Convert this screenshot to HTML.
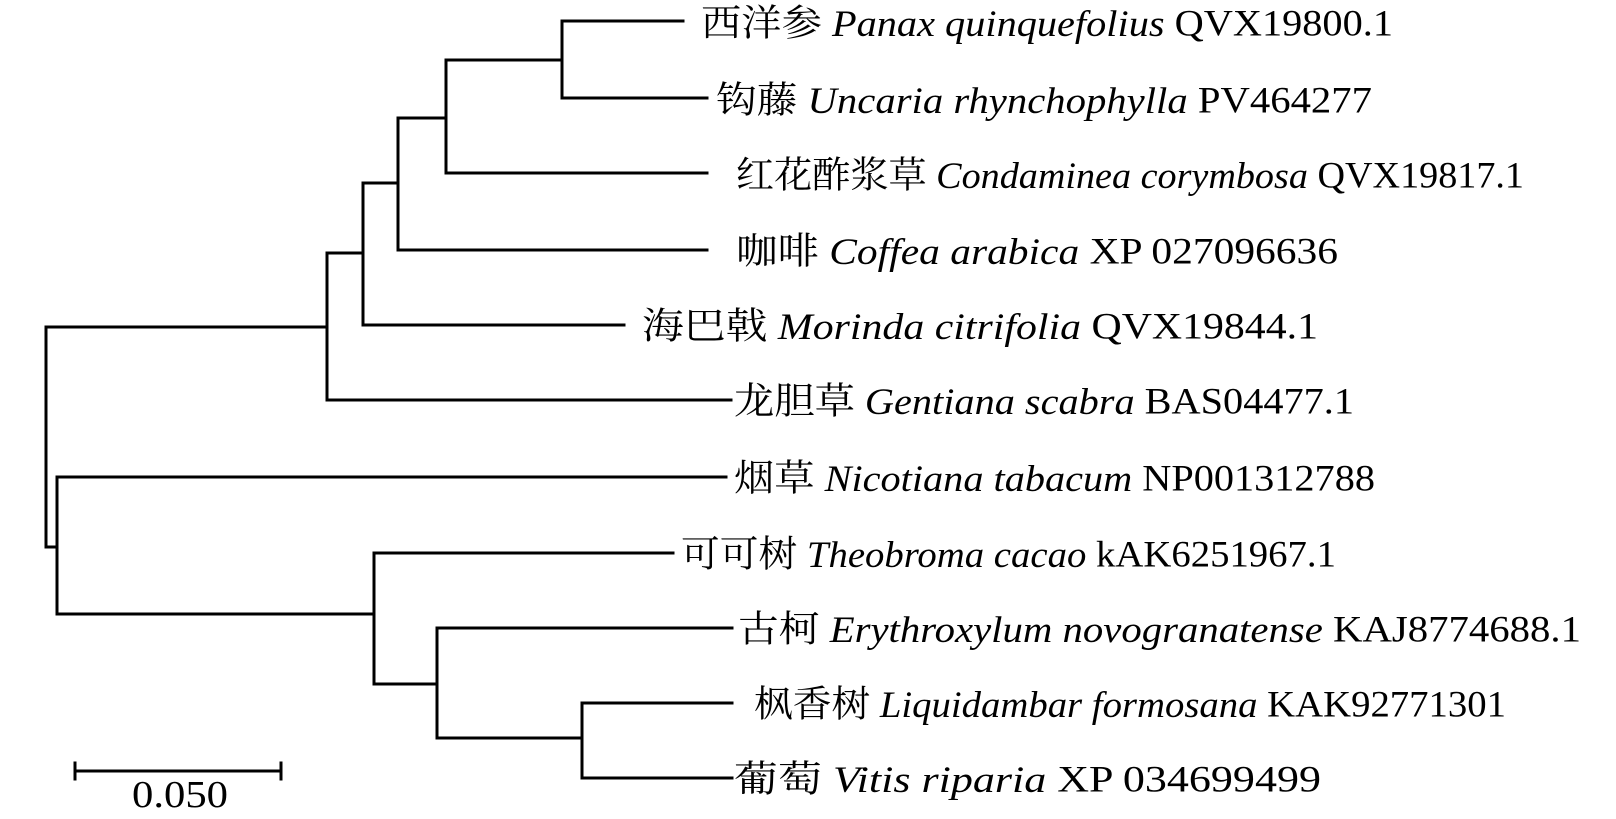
<!DOCTYPE html>
<html><head><meta charset="utf-8"><style>
html,body{margin:0;padding:0;background:#fff;width:1616px;height:819px;overflow:hidden}
text{font-family:"Liberation Serif","Noto Serif CJK SC",serif;font-size:37px;fill:#000}
.i{font-style:italic}
</style></head><body>
<svg width="1616" height="819" viewBox="0 0 1616 819" xmlns="http://www.w3.org/2000/svg">
<g stroke="#000" stroke-width="3" fill="none" stroke-linecap="square">
<path d="M562 21H683M562 98H707M562 21V98"/>
<path d="M446 60H562M446 60V173M446 173H707"/>
<path d="M398 118H446M398 118V250M398 250H707"/>
<path d="M363 183H398M363 183V325M363 325H624"/>
<path d="M327 253H363M327 253V400M327 400H731"/>
<path d="M46 327H327M46 327V547M46 547H57"/>
<path d="M57 477V614M57 477H726M57 614H374"/>
<path d="M374 553V684M374 553H673M374 684H437"/>
<path d="M437 628V738M437 628H732M437 738H582"/>
<path d="M582 703V778M582 703H732M582 778H732"/>
<path d="M75 771H281M75 763V779M281 763V779"/>
</g>
<g dominant-baseline="central">
<text x="701" y="24" textLength="692" lengthAdjust="spacingAndGlyphs">西洋参 <tspan class="i">Panax quinquefolius</tspan> QVX19800.1</text>
<text x="716" y="101" textLength="656" lengthAdjust="spacingAndGlyphs">钩藤 <tspan class="i">Uncaria rhynchophylla</tspan> PV464277</text>
<text x="736" y="176" textLength="788" lengthAdjust="spacingAndGlyphs">红花酢浆草 <tspan class="i">Condaminea corymbosa</tspan> QVX19817.1</text>
<text x="736" y="252" textLength="602" lengthAdjust="spacingAndGlyphs">咖啡 <tspan class="i">Coffea arabica</tspan> XP 027096636</text>
<text x="642" y="327" textLength="676" lengthAdjust="spacingAndGlyphs">海巴戟 <tspan class="i">Morinda citrifolia</tspan> QVX19844.1</text>
<text x="734" y="402" textLength="620" lengthAdjust="spacingAndGlyphs">龙胆草 <tspan class="i">Gentiana scabra</tspan> BAS04477.1</text>
<text x="734" y="479" textLength="641" lengthAdjust="spacingAndGlyphs">烟草 <tspan class="i">Nicotiana tabacum</tspan> NP001312788</text>
<text x="681" y="555" textLength="655" lengthAdjust="spacingAndGlyphs">可可树 <tspan class="i">Theobroma cacao</tspan> kAK6251967.1</text>
<text x="738" y="630" textLength="843" lengthAdjust="spacingAndGlyphs">古柯 <tspan class="i">Erythroxylum novogranatense</tspan> KAJ8774688.1</text>
<text x="754" y="705" textLength="752" lengthAdjust="spacingAndGlyphs">枫香树 <tspan class="i">Liquidambar formosana</tspan> KAK92771301</text>
<text x="734" y="780" textLength="587" lengthAdjust="spacingAndGlyphs">葡萄 <tspan class="i">Vitis riparia</tspan> XP 034699499</text>
<text x="132" y="795" textLength="96" lengthAdjust="spacingAndGlyphs" style="font-size:38px">0.050</text>
</g>
</svg>
</body></html>
